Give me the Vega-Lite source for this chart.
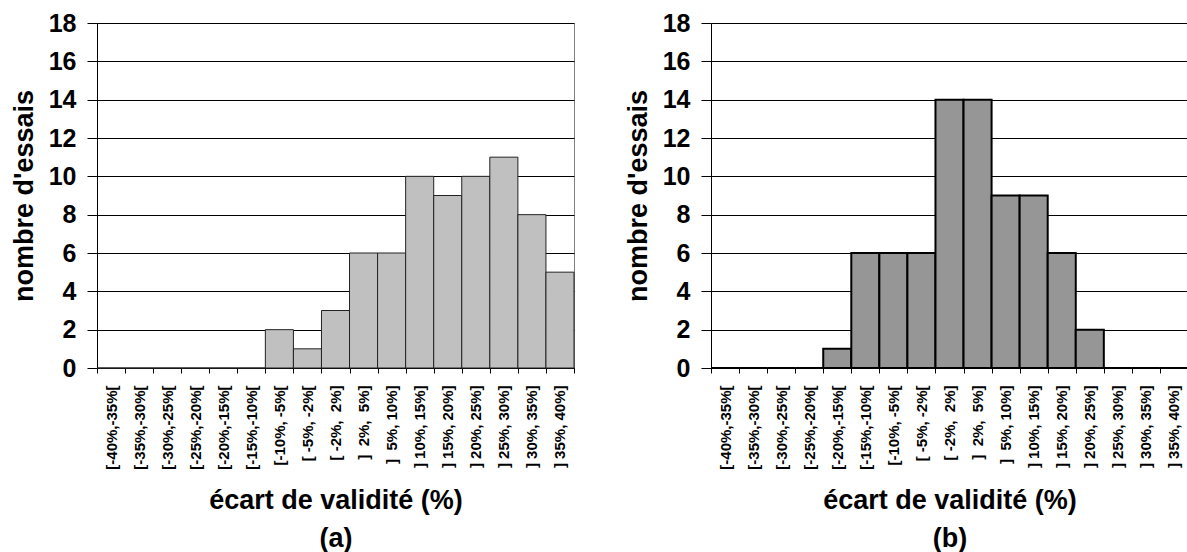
{
  "$schema": "https://vega.github.io/schema/vega-lite/v6.json",
  "autosize": {"type": "none"},
  "padding": {"left": 97, "top": 23, "right": 1090, "bottom": 529},
  "background": "white",
  "bounds": "flush",
  "spacing": 137,
  "config": {
    "font": "Liberation Sans",
    "view": {"stroke": "#808080", "strokeWidth": 1},
    "axis": {
      "labelFont": "Liberation Sans",
      "titleFont": "Liberation Sans",
      "labelFontWeight": "bold",
      "titleFontWeight": "bold",
      "labelColor": "#000",
      "titleColor": "#000",
      "domainColor": "#000",
      "tickColor": "#000",
      "domainWidth": 1,
      "tickWidth": 1
    },
    "axisX": {
      "labelFontSize": 15,
      "tickSize": 5,
      "labelPadding": 12,
      "titleFontSize": 27,
      "titlePadding": 18,
      "titleLineHeight": 38,
      "grid": false
    },
    "axisY": {
      "labelFontSize": 25,
      "tickSize": 10,
      "labelPadding": 11,
      "titleFontSize": 27,
      "titlePadding": 10,
      "grid": true,
      "gridColor": "#000",
      "gridWidth": 1,
      "gridOpacity": 1
    }
  },
  "datasets": {
    "a": [
      {"classe": "[-40%,-35%[", "n": 0},
      {"classe": "[-35%,-30%[", "n": 0},
      {"classe": "[-30%,-25%[", "n": 0},
      {"classe": "[-25%,-20%[", "n": 0},
      {"classe": "[-20%,-15%[", "n": 0},
      {"classe": "[-15%,-10%[", "n": 0},
      {"classe": "[-10%, -5%[", "n": 2},
      {"classe": "[ -5%, -2%[", "n": 1},
      {"classe": "[ -2%, \u00a02%]", "n": 3},
      {"classe": "] \u00a02%, \u00a05%]", "n": 6},
      {"classe": "] \u00a05%, 10%]", "n": 6},
      {"classe": "] 10%, 15%]", "n": 10},
      {"classe": "] 15%, 20%]", "n": 9},
      {"classe": "] 20%, 25%]", "n": 10},
      {"classe": "] 25%, 30%]", "n": 11},
      {"classe": "] 30%, 35%]", "n": 8},
      {"classe": "] 35%, 40%]", "n": 5}
    ],
    "b": [
      {"classe": "[-40%,-35%[", "n": 0},
      {"classe": "[-35%,-30%[", "n": 0},
      {"classe": "[-30%,-25%[", "n": 0},
      {"classe": "[-25%,-20%[", "n": 0},
      {"classe": "[-20%,-15%[", "n": 1},
      {"classe": "[-15%,-10%[", "n": 6},
      {"classe": "[-10%, -5%[", "n": 6},
      {"classe": "[ -5%, -2%[", "n": 6},
      {"classe": "[ -2%, \u00a02%]", "n": 14},
      {"classe": "] \u00a02%, \u00a05%]", "n": 14},
      {"classe": "] \u00a05%, 10%]", "n": 9},
      {"classe": "] 10%, 15%]", "n": 9},
      {"classe": "] 15%, 20%]", "n": 6},
      {"classe": "] 20%, 25%]", "n": 2},
      {"classe": "] 25%, 30%]", "n": 0},
      {"classe": "] 30%, 35%]", "n": 0},
      {"classe": "] 35%, 40%]", "n": 0}
    ]
  },
  "hconcat": [
    {
      "width": 477,
      "height": 345,
      "data": {"name": "a"},
      "mark": {"type": "bar", "fill": "#C0C0C0", "stroke": "#222", "strokeWidth": 1},
      "encoding": {
        "x": {
          "field": "classe",
          "type": "nominal",
          "sort": null,
          "scale": {"paddingInner": 0, "paddingOuter": 0},
          "axis": {"title": ["écart de validité (%)", "(a)"], "labelAngle": -90, "tickBand": "extent"}
        },
        "y": {
          "field": "n",
          "type": "quantitative",
          "scale": {"domain": [0, 18], "nice": false},
          "axis": {"title": "nombre d'essais", "values": [0, 2, 4, 6, 8, 10, 12, 14, 16, 18]}
        }
      }
    },
    {
      "width": 477,
      "height": 345,
      "data": {"name": "b"},
      "mark": {"type": "bar", "fill": "#969696", "stroke": "#000", "strokeWidth": 2},
      "encoding": {
        "x": {
          "field": "classe",
          "type": "nominal",
          "sort": null,
          "scale": {"paddingInner": 0, "paddingOuter": 0},
          "axis": {"title": ["écart de validité (%)", "(b)"], "labelAngle": -90, "tickBand": "extent"}
        },
        "y": {
          "field": "n",
          "type": "quantitative",
          "scale": {"domain": [0, 18], "nice": false},
          "axis": {"title": "nombre d'essais", "values": [0, 2, 4, 6, 8, 10, 12, 14, 16, 18]}
        }
      }
    }
  ]
}
